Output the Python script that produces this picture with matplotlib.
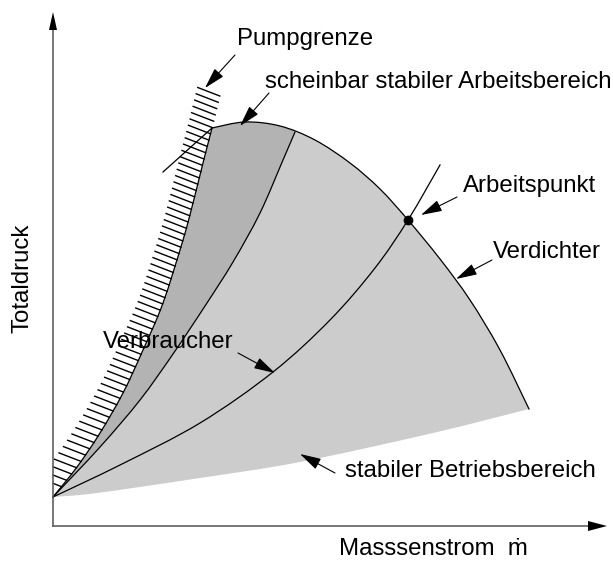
import numpy as np
import matplotlib
matplotlib.use("Agg")
import matplotlib.pyplot as plt
from matplotlib.path import Path

plt.rcParams['font.family'] = ['Liberation Sans', 'DejaVu Sans']

# ---------------- schematic data (picture coordinates, y downwards) ----------------
# Verdichterkennlinie (compressor characteristic), stable part
verdichter_x = [212, 245, 280, 315, 350, 380, 408, 440, 470, 500, 529]
verdichter_y = [128, 122, 126, 140, 163, 189, 220, 259, 300, 350, 409]
# unstable continuation left of the surge line
instabil_x = [163, 212]
instabil_y = [172, 128]

# Pumpgrenze (surge line)
pump_x = [53, 77, 100, 123, 143, 163, 183, 193, 203, 212]
pump_y = [497, 467, 433, 393, 350, 303, 240, 203, 163, 128]

# boundary between scheinbar stabil / stabil
grenze_x = [53, 100, 140, 173, 205, 233, 260, 283, 295]
grenze_y = [497, 447, 400, 354, 306, 262, 213, 160, 132]

# Verbraucherkennlinie (throttle curve)
verbraucher_x = [53, 120, 200, 273, 330, 375, 408, 440]
verbraucher_y = [497, 465, 423, 372, 320, 268, 220, 165]

# lower edge of the stable operating range
unten_x = [53, 97, 200, 300, 433, 529]
unten_y = [497, 493, 478, 462, 433, 409]

arbeitspunkt = (408, 220)

labels = ["Pumpgrenze", "scheinbar stabiler Arbeitsbereich", "Arbeitspunkt",
          "Verdichter", "Verbraucher", "stabiler Betriebsbereich"]
label_pos = [(237, 45), (265, 88), (463, 192), (493, 258), (103, 348), (345, 477)]
arrow_tail = [(235, 55), (269, 93), (457, 197), (492, 260), (238, 353), (335, 473)]
arrow_head = [(205, 88), (240, 126), (421, 215), (456, 279), (275, 373), (300, 454)]

x_label = "Masssenstrom  \u1e41"
y_label = "Totaldruck"

# ---------------- helpers ----------------
def smooth(xs, ys):
    # Catmull-Rom through the points, drawn as cubic Bezier path
    p = np.column_stack([xs, ys]).astype(float)
    n = len(p)
    verts = [p[0]]
    codes = [Path.MOVETO]
    for i in range(n - 1):
        p0 = p[max(i - 1, 0)]
        p1 = p[i]
        p2 = p[i + 1]
        p3 = p[min(i + 2, n - 1)]
        verts += [p1 + (p2 - p0) / 6, p2 - (p3 - p1) / 6, p2]
        codes += [Path.CURVE4] * 3
    path = Path(verts, codes)
    return path.to_polygons(closed_only=False)[0]


verd = smooth(verdichter_x, verdichter_y)
pump = smooth(pump_x, pump_y)
grenze = smooth(grenze_x, grenze_y)
verb = smooth(verbraucher_x, verbraucher_y)
unten = smooth(unten_x, unten_y)

fig = plt.figure(figsize=(6.13, 5.61), dpi=100)
ax = fig.add_axes([0, 0, 1, 1])
ax.set_xlim(0, 613)
ax.set_ylim(561, 0)
ax.axis('off')

LIGHT = '#cccccc'
DARK = '#b3b3b3'

# stable region
v_right = verd[verd[:, 0] >= 295]
light = np.vstack([unten, v_right[::-1], grenze[::-1]])
ax.fill(light[:, 0], light[:, 1], color=LIGHT, lw=0, zorder=1)

# seemingly stable region
v_mid = verd[verd[:, 0] <= 295]
dark = np.vstack([grenze, v_mid[::-1], pump[::-1]])
ax.fill(dark[:, 0], dark[:, 1], color=DARK, lw=0, zorder=2)

# hatching left of the surge line
hy = np.concatenate([[95], pump[::-1, 1]])
hx = np.concatenate([[220], pump[::-1, 0]])
order = np.argsort(hy)
for y in np.arange(96, 492, 6.3):
    xr = np.interp(y, hy[order], hx[order])
    xl, yl = xr - 22, y - 8.5
    if xl < 53:
        t = (53 - xr) / (xl - xr)
        xl, yl = 53, y + t * (yl - y)
    ax.plot([xl, xr], [yl, y], color='k', lw=1.0, zorder=3)

# curves
ax.plot(verd[:, 0], verd[:, 1], color='k', lw=0.9, zorder=4)
ax.plot(instabil_x, instabil_y, color='k', lw=0.9, zorder=4)
ax.plot(pump[:, 0], pump[:, 1], color='k', lw=0.9, zorder=4)
ax.plot(grenze[:, 0], grenze[:, 1], color='k', lw=0.9, zorder=4)
ax.plot(verb[:, 0], verb[:, 1], color='k', lw=0.9, zorder=4)
ax.plot(*arbeitspunkt, 'o', color='k', ms=6, zorder=5)

# axes with arrows
x0, y0 = 53, 526
ax.plot([x0, 590], [y0, y0], color='#606060', lw=1.2, zorder=4)
ax.plot([x0, x0], [y0, 28], color='#606060', lw=1.2, zorder=4)
ax.fill([588, 607, 588], [521, 526, 531], color='k', lw=0, zorder=5)
ax.fill([49, 53, 57], [30, 12, 30], color='k', lw=0, zorder=5)

# labels and pointer arrows
for txt, (tx, ty), tail, head in zip(labels, label_pos, arrow_tail, arrow_head):
    ax.text(tx, ty, txt, fontsize=17.3, ha='left', va='baseline', zorder=6)
    ax.annotate('', xy=head, xytext=tail,
                arrowprops=dict(arrowstyle='-|>,head_length=0.65,head_width=0.18',
                                color='k', lw=0.8, mutation_scale=20,
                                shrinkA=0, shrinkB=0), zorder=6)

ax.text(339, 555, x_label, fontsize=17.3, ha='left', va='baseline')
ax.text(34, 278, y_label, fontsize=17.3, rotation=90, ha='right', va='center')

fig.savefig("out.png", dpi=100)
